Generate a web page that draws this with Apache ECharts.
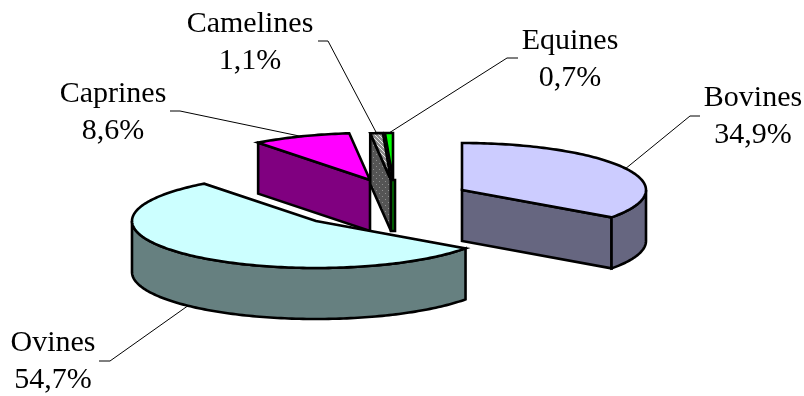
<!DOCTYPE html>
<html>
<head>
<meta charset="utf-8">
<style>html,body{margin:0;padding:0;background:#fff}#chart{width:804px;height:396px}</style>
<script src="https://cdn.jsdelivr.net/npm/echarts@6/dist/echarts.min.js"></script>
</head>
<body>
<div id="chart"></div>
<script>
// Livestock shares, clockwise from twelve o'clock
const categories = ['Bovines', 'Ovines', 'Caprines', 'Camelines', 'Equines'];
const shares = [34.9, 54.7, 8.6, 1.1, 0.7];

// Tilted-disc geometry of the exploded pie
const RX = 184, RY = 47, DEPTH = 51;
const EDGE_ON = 0.06;     // cut faces this close to edge-on shrink to a thin spine
const SPINE = 4;
const sliceCentres = [[462, 190], [316, 221], [370, 180], [391, 180], [393, 180]];
const paintOrder = [3, 5, 1, 2, 4];   // back slices first, Ovines last
const labelBaselines = [[753, 106], [53, 351], [113, 102], [250, 32], [570, 49]];
const leaderElbows = [
  [[690, 116], [700, 116]],
  [[110, 361], [99, 361]],
  [[180, 111], [170, 111]],
  [[328, 41], [318, 41]],
  [[507, 58], [518, 58]]
];

function tile(size, draw) {
  const c = document.createElement('canvas');
  c.width = c.height = size;
  draw(c.getContext('2d'));
  return { image: c, repeat: 'repeat' };
}
const stripedTop = tile(4, g => {
  g.fillStyle = '#8c8c8c'; g.fillRect(0, 0, 4, 4);
  g.fillStyle = '#e4e4e4'; g.fillRect(0, 0, 1, 1); g.fillRect(1, 1, 1, 1); g.fillRect(2, 2, 1, 1); g.fillRect(3, 3, 1, 1);
});
const dottedWall = tile(6, g => {
  g.fillStyle = '#555555'; g.fillRect(0, 0, 6, 6);
  g.fillStyle = '#8f8f8f'; g.fillRect(1, 1, 1, 1); g.fillRect(4, 4, 1, 1);
});
const topFills = ['#CCCCFF', '#CCFFFF', '#FF00FF', stripedTop, '#00FF00'];
const wallFills = ['#666680', '#668080', '#800080', dottedWall, '#008000'];

const FONT_SIZE = 30;
const LINE_GAP = 37.5;
const TEXT_FONT = FONT_SIZE + 'px "Liberation Serif", "Times New Roman", serif';

const total = shares.reduce((a, b) => a + b, 0);
const toAngle = v => v / total * Math.PI * 2;

function rim(c, a) {
  return [c[0] + RX * Math.sin(a), c[1] - RY * Math.cos(a)];
}
function arc(c, from, to) {
  const n = Math.max(2, Math.ceil((to - from) / 0.02));
  const pts = [];
  for (let i = 0; i <= n; i++) pts.push(rim(c, from + (to - from) * i / n));
  return pts;
}
const drop = p => [p[0], p[1] + DEPTH];

function renderSlice(params, api) {
  const i = params.dataIndex;
  const value = api.value(0);
  let before = 0;
  for (let k = 0; k < i; k++) before += shares[k];
  const a0 = toAngle(before), a1 = a0 + toAngle(value);
  const c = sliceCentres[i];
  const base = paintOrder[i] * 10;
  const edge = { stroke: '#000', lineWidth: 2.6, lineJoin: 'miter', miterLimit: 4 };
  const children = [];
  const face = (points, fill, z) => children.push({
    type: 'polygon', z2: base + z,
    shape: { points },
    style: Object.assign({ fill }, edge)
  });
  const cutFace = a => {
    if (Math.abs(Math.sin(a)) < EDGE_ON) {
      const l = [c[0] - SPINE / 2, c[1]], r = [c[0] + SPINE / 2, c[1]];
      face([l, r, drop(r), drop(l)], wallFills[i], 1);
    } else {
      const p = rim(c, a);
      face([c, p, drop(p), drop(c)], wallFills[i], 1);
    }
  };

  // Radial cut faces that turn toward the viewer
  if (Math.sin(a0) < -1e-6) cutFace(a0);
  if (Math.sin(a1) > 1e-6) cutFace(a1);
  // Outer wall: only the part of the rim on the near side
  const w0 = Math.max(a0, Math.PI / 2), w1 = Math.min(a1, Math.PI * 1.5);
  if (w1 > w0) {
    const upper = arc(c, w0, w1);
    face(upper.concat(upper.map(drop).reverse()), wallFills[i], 2);
  }
  // Top surface
  face([c].concat(arc(c, a0, a1)), topFills[i], 3);

  // Leader from the slice rim to the label
  const mid = (a0 + a1) / 2;
  let from = rim(c, mid);
  if (Math.cos(mid) < 0) from = drop(from);
  children.push({
    type: 'polyline', z2: 1,
    shape: { points: [from].concat(leaderElbows[i]) },
    style: { fill: null, stroke: '#000', lineWidth: 1 }
  });

  // Two-line label: name, then share with a decimal comma
  const lab = labelBaselines[i];
  [categories[i], value.toFixed(1).replace('.', ',') + '%'].forEach((t, line) => {
    children.push({
      type: 'text', z2: 100,
      style: {
        text: t, x: lab[0], y: lab[1] + line * LINE_GAP - FONT_SIZE * 0.27,
        align: 'center', verticalAlign: 'middle',
        font: TEXT_FONT, fill: '#000'
      }
    });
  });
  return { type: 'group', children };
}

const chart = echarts.init(document.getElementById('chart'));
chart.setOption({
  animation: false,
  backgroundColor: '#fff',
  series: [{
    type: 'custom',
    coordinateSystem: 'none',
    renderItem: renderSlice,
    data: shares.map((v, i) => ({ name: categories[i], value: [v] }))
  }]
});
</script>
</body>
</html>
